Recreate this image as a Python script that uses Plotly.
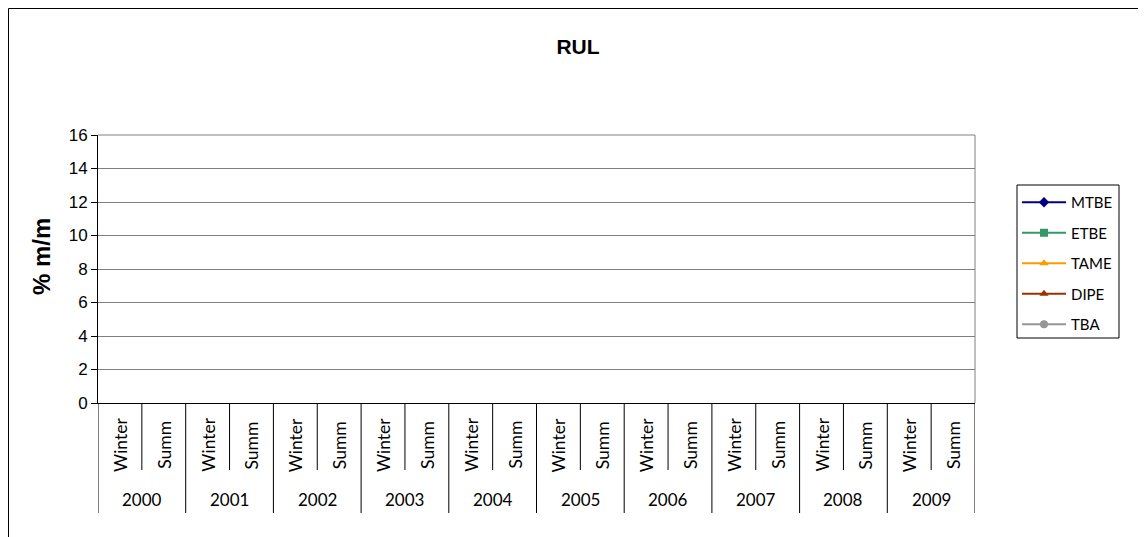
import plotly.graph_objects as go

# chart data (the reference chart has no values plotted)
years = [str(y) for y in range(2000, 2010)]
seasons = ["Winter", "Summ"]
series_names = ["MTBE", "ETBE", "TAME", "DIPE", "TBA"]
mtbe = [None] * 20
etbe = [None] * 20
tame = [None] * 20
dipe = [None] * 20
tba = [None] * 20
y_ticks = list(range(0, 17, 2))

cats = [f"{y} {s}" for y in years for s in seasons]
inner = [s for y in years for s in seasons]

colors = ["#000080", "#339966", "#FF9900", "#993300", "#969696"]
symbols = ["diamond", "square", "triangle-up", "triangle-up", "circle"]
values = [mtbe, etbe, tame, dipe, tba]

fig = go.Figure()
for name, vals, c, sym in zip(series_names, values, colors, symbols):
    fig.add_trace(go.Scatter(
        x=cats, y=vals, name=name, mode="lines+markers", legendgroup=name,
        line=dict(color=c, width=2), marker=dict(symbol=sym, size=8, color=c),
    ))

W, H = 1146, 537
L, T = 90, 127
pw, ph = 877, 268
R, B = W - L - pw, H - T - ph

def px_x(p):
    return (p - L) / pw

def px_y(p):
    return 1 - (p - T) / ph

fig.update_layout(
    width=W, height=H,
    margin=dict(l=L, r=R, t=T, b=B),
    paper_bgcolor="white", plot_bgcolor="white",
    title=dict(text="<b>RUL</b>", x=570 / W, xanchor="center", y=1 - 39 / H, yanchor="middle",
               font=dict(family="Liberation Sans", size=21, color="black")),
    font=dict(family="Lato", color="black"),
    showlegend=True,
    legend=dict(x=px_x(1009), y=px_y(178), xanchor="left", yanchor="top",
                borderwidth=0, bgcolor="rgba(0,0,0,0)", itemwidth=44,
                font=dict(family="Lato", size=15), tracegroupgap=8),
    xaxis=dict(
        type="category", categoryorder="array", categoryarray=cats,
        range=[-0.5, len(cats) - 0.5], showgrid=False, showline=True,
        linecolor="black", linewidth=1, ticks="", showticklabels=False, zeroline=False,
    ),
    yaxis=dict(
        range=[0, 16], tickvals=y_ticks, showgrid=True, gridcolor="#7f7f7f", gridwidth=1,
        showline=True, linecolor="black", linewidth=1, ticks="outside", ticklen=6,
        tickcolor="black", zeroline=False,
        tickfont=dict(family="Liberation Sans", size=17),
    ),
)

# y axis title
fig.add_annotation(text="<b>% m/m</b>", xref="paper", yref="paper", x=px_x(33), y=px_y(249),
                   textangle=-90, showarrow=False, xanchor="center", yanchor="middle",
                   font=dict(family="Liberation Sans", size=24, color="black"))

# inner category labels and ticks
for i, lab in enumerate(inner):
    fig.add_annotation(text=lab, x=i, xref="x", yref="paper", y=px_y(437), textangle=-90,
                       showarrow=False, xanchor="center", yanchor="middle",
                       font=dict(family="Lato", size=17.5, color="black"))
for i in range(len(cats) + 1):
    if i % len(seasons) == 0:
        y_end = px_y(505)
    else:
        y_end = px_y(462)
    fig.add_shape(type="line", xref="x", yref="paper", x0=i - 0.5, x1=i - 0.5, y0=0, y1=y_end,
                  line=dict(color="black", width=1))

# year labels
for j, yr in enumerate(years):
    fig.add_annotation(text=yr, x=j * len(seasons) + 0.5, xref="x", yref="paper", y=px_y(491),
                       showarrow=False, xanchor="center", yanchor="middle",
                       font=dict(family="Lato", size=17, color="black"))

# gray top/right border of plot area
fig.add_shape(type="line", xref="paper", yref="paper", x0=0, x1=1, y0=1, y1=1,
              line=dict(color="#808080", width=1))
fig.add_shape(type="line", xref="paper", yref="paper", x0=1, x1=1, y0=0, y1=1,
              line=dict(color="#808080", width=1))
# legend box
fig.add_shape(type="rect", xref="paper", yref="paper",
              x0=px_x(1009), x1=px_x(1111), y0=px_y(177), y1=px_y(330),
              line=dict(color="black", width=1))
# outer chart frame
fig.add_shape(type="rect", xref="paper", yref="paper",
              x0=px_x(0.5), x1=px_x(W - 0.5), y0=px_y(0.5), y1=px_y(H - 0.5),
              line=dict(color="black", width=1))

fig.write_html("out.html")
